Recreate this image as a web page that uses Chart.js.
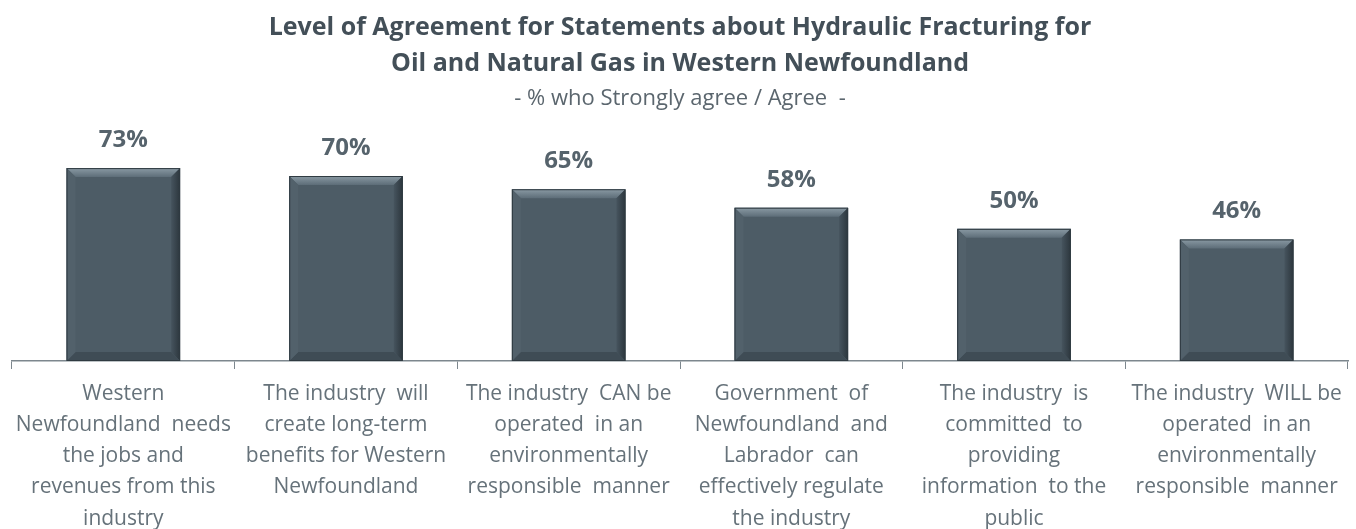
<!DOCTYPE html>
<html lang="en">
<head>
    <meta charset="UTF-8">
    <title>Hydraulic Fracturing Agreement</title>
    <script src="https://cdn.jsdelivr.net/npm/chart.js"></script>
    <style>
        html, body { margin: 0; padding: 0; background: #fff; }
        .wrap { width: 1356px; height: 529px; }
    </style>
</head>
<body>
    <div class="wrap"><canvas id="agreeChart" width="1356" height="529"></canvas></div>

    <script>
        // statements (wrapped the way the original report shows them)
        const statements = [
            ['Western', 'Newfoundland  needs', 'the jobs and', 'revenues from this', 'industry'],
            ['The industry  will', 'create long-term', 'benefits for Western', 'Newfoundland'],
            ['The industry  CAN be', 'operated  in an', 'environmentally', 'responsible  manner'],
            ['Government  of', 'Newfoundland  and', 'Labrador  can', 'effectively regulate', 'the industry'],
            ['The industry  is', 'committed  to', 'providing', 'information  to the', 'public'],
            ['The industry  WILL be', 'operated  in an', 'environmentally', 'responsible  manner']
        ];
        // % who strongly agree / agree
        const agreePct = [73, 70, 65, 58, 50, 46];

        const titleLines = ['Level of Agreement for Statements about Hydraulic Fracturing for',
                            'Oil and Natural Gas in Western Newfoundland'];
        const subtitleText = '- % who Strongly agree / Agree  -';

        const FONT = '"Open Sans", Lato, sans-serif';

        // value labels over each bar
        const valueLabels = {
            id: 'valueLabels',
            afterDatasetsDraw(chart) {
                const ctx = chart.ctx;
                const meta = chart.getDatasetMeta(0);
                ctx.save();
                ctx.font = 'bold 24px ' + FONT;
                ctx.fillStyle = '#56636c';
                ctx.textAlign = 'center';
                ctx.textBaseline = 'middle';
                meta.data.forEach((bar, i) => {
                    ctx.fillText(agreePct[i] + '%', bar.x, bar.y - 28);
                });
                ctx.restore();
            }
        };

        // soft bevel on the bars (light top edge, darker sides)
        const bevel = {
            id: 'bevel',
            afterDatasetsDraw(chart) {
                const ctx = chart.ctx;
                const meta = chart.getDatasetMeta(0);
                ctx.save();
                meta.data.forEach(bar => {
                    const l = bar.x - bar.width / 2, r = bar.x + bar.width / 2;
                    const t = bar.y, b = bar.base;
                    const e = 9;
                    let g = ctx.createLinearGradient(0, t, 0, t + e);
                    g.addColorStop(0, '#8a9aa4');
                    g.addColorStop(1, '#5d6d78');
                    ctx.fillStyle = g;
                    ctx.beginPath();
                    ctx.moveTo(l, t); ctx.lineTo(r, t); ctx.lineTo(r - e, t + e); ctx.lineTo(l + e, t + e);
                    ctx.closePath(); ctx.fill();
                    g = ctx.createLinearGradient(r - e, 0, r, 0);
                    g.addColorStop(0, '#46545e');
                    g.addColorStop(1, '#2c363d');
                    ctx.fillStyle = g;
                    ctx.beginPath();
                    ctx.moveTo(r, t); ctx.lineTo(r, b); ctx.lineTo(r - e, b - e); ctx.lineTo(r - e, t + e);
                    ctx.closePath(); ctx.fill();
                    ctx.fillStyle = '#3f4c55';
                    ctx.beginPath();
                    ctx.moveTo(l, b); ctx.lineTo(r, b); ctx.lineTo(r - e, b - e); ctx.lineTo(l + e, b - e);
                    ctx.closePath(); ctx.fill();
                    ctx.fillStyle = '#52616b';
                    ctx.beginPath();
                    ctx.moveTo(l, t); ctx.lineTo(l + e, t + e); ctx.lineTo(l + e, b - e); ctx.lineTo(l, b);
                    ctx.closePath(); ctx.fill();
                    ctx.strokeStyle = '#2f3a41';
                    ctx.lineWidth = 1;
                    ctx.strokeRect(l + 0.5, t + 0.5, r - l - 1, b - t - 1);
                });
                ctx.restore();
            }
        };

        new Chart(document.getElementById('agreeChart'), {
            type: 'bar',
            data: {
                labels: statements,
                datasets: [{
                    data: agreePct,
                    backgroundColor: '#4d5c66',
                    barPercentage: 0.51,
                    categoryPercentage: 1
                }]
            },
            options: {
                responsive: false,
                animation: false,
                layout: { padding: { left: 12, right: 8, top: 0, bottom: 0 } },
                plugins: {
                    legend: { display: false },
                    tooltip: { enabled: false },
                    title: {
                        display: true,
                        text: titleLines,
                        color: '#434f58',
                        font: { family: FONT, size: 25, weight: 'bold', lineHeight: 1.44 },
                        padding: { top: 10, bottom: 0 }
                    },
                    subtitle: {
                        display: true,
                        text: subtitleText,
                        color: '#5b666e',
                        font: { family: FONT, size: 22, lineHeight: 1.3 },
                        padding: { top: 2, bottom: 0 }
                    }
                },
                scales: {
                    x: {
                        afterFit(scale) { scale.height = 168; },
                        grid: {
                            offset: true,
                            drawOnChartArea: false,
                            drawTicks: true,
                            tickLength: 8,
                            color: '#7d878e'
                        },
                        border: { color: '#7d878e', width: 1.5 },
                        ticks: {
                            color: '#66727a',
                            font: { family: FONT, size: 21, lineHeight: 1.49 },
                            padding: 9,
                            maxRotation: 0,
                            minRotation: 0,
                            autoSkip: false
                        }
                    },
                    y: {
                        display: false,
                        min: 0,
                        max: 94
                    }
                }
            },
            plugins: [bevel, valueLabels]
        });
    </script>
</body>
</html>
